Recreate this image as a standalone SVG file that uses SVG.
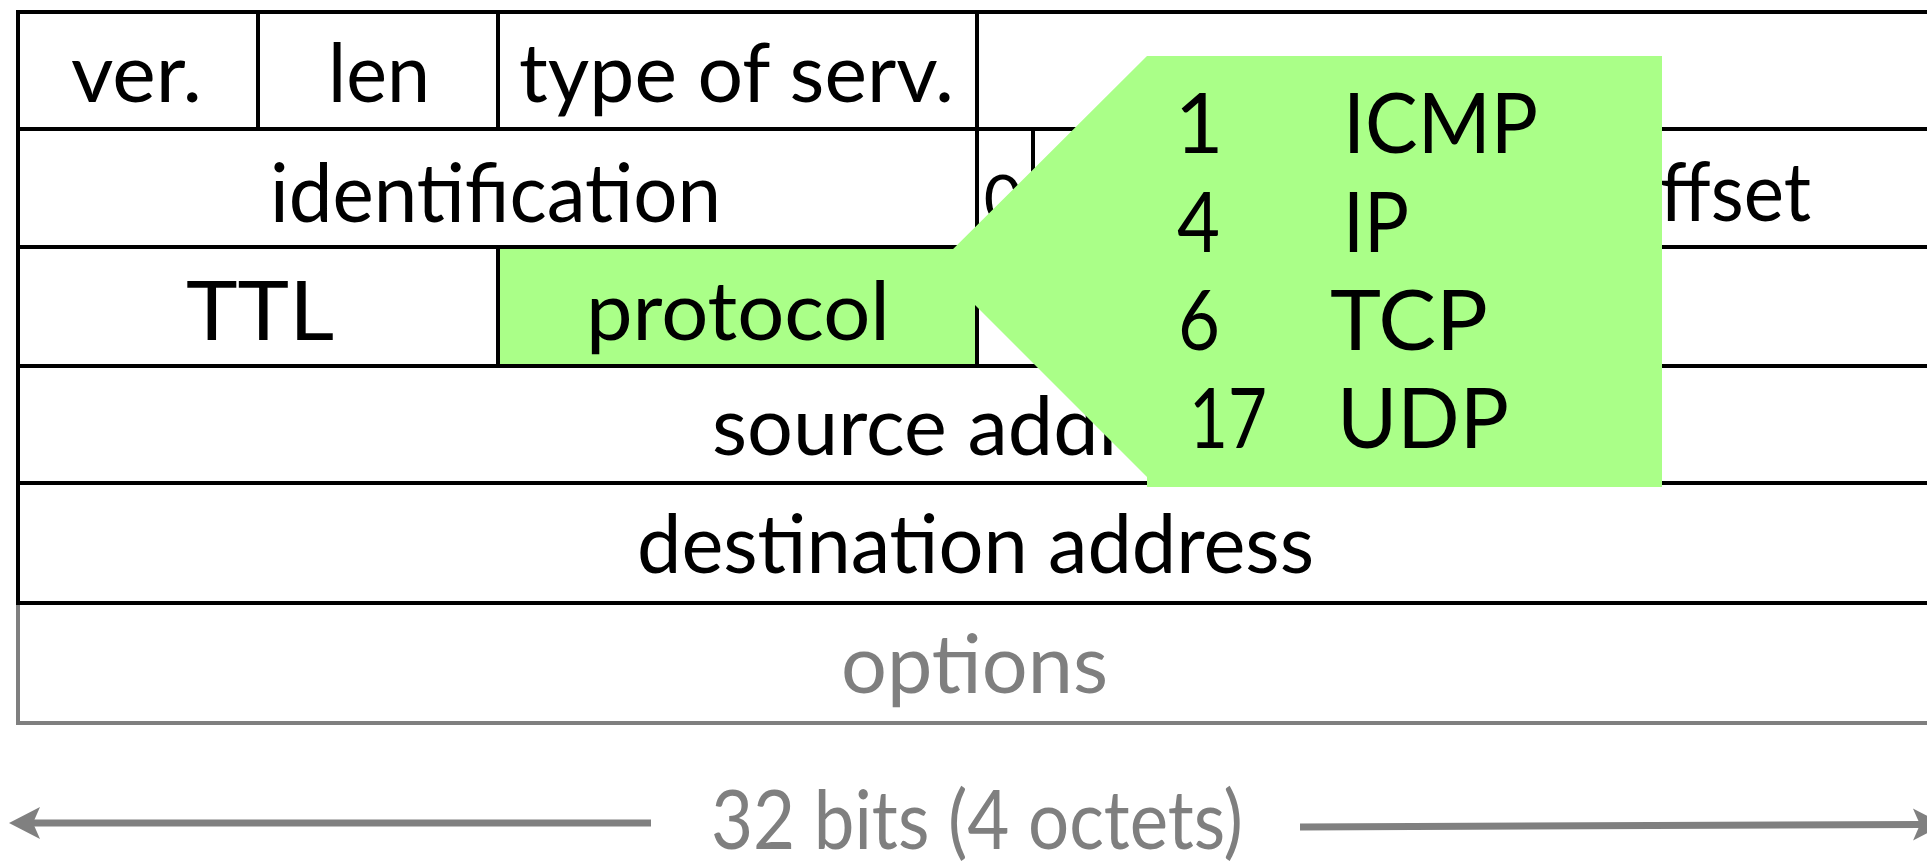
<svg xmlns="http://www.w3.org/2000/svg" width="1927" height="865" viewBox="0 0 1927 865">
<style>
.t{font-family:"Lato","Liberation Sans",sans-serif;font-size:81px;fill:#000}
.g{fill:#7F7F7F}
.c{font-family:"Lato","Liberation Sans",sans-serif;font-size:84px;fill:#000}
.ln{stroke:#000;stroke-width:4;fill:none}
.lg{stroke:#7F7F7F;stroke-width:4;fill:none}
.green{fill:#AAFF88}
.arr{stroke:#808080;stroke-width:7;fill:none}
</style>
<defs>
<marker id="ah" markerUnits="userSpaceOnUse" markerWidth="32" markerHeight="32" refX="7" refY="16" orient="auto" overflow="visible">
<path d="M0,0 L31,16 L0,32 L7,16 Z" fill="#808080"/>
</marker>
</defs>
<rect width="1927" height="865" fill="#fff"/>

<g id="row1">
<line class="ln" x1="16" y1="12" x2="1940" y2="12"/>
<line class="ln" x1="18" y1="12" x2="18" y2="129"/>
<line class="ln" x1="258" y1="12" x2="258" y2="129"/>
<line class="ln" x1="498" y1="12" x2="498" y2="129"/>
<line class="ln" x1="977" y1="12" x2="977" y2="129"/>
<text class="t" x="71" y="102" textLength="131" lengthAdjust="spacingAndGlyphs">ver.</text>
<text class="t" x="328" y="102" textLength="102" lengthAdjust="spacingAndGlyphs">len</text>
<text class="t" x="519" y="102" textLength="435" lengthAdjust="spacingAndGlyphs">type of serv.</text>
</g>

<g id="row2">
<line class="ln" x1="16" y1="129" x2="1940" y2="129"/>
<line class="ln" x1="18" y1="129" x2="18" y2="247"/>
<line class="ln" x1="977" y1="129" x2="977" y2="247"/>
<line class="ln" x1="1033" y1="129" x2="1033" y2="247"/>
<text class="t" x="270" y="222" textLength="451" lengthAdjust="spacingAndGlyphs">identification</text>
<text class="t" x="1003" y="222" text-anchor="middle" style="font-size:66px">0</text>
<text class="t" x="1660" y="221" textLength="151" lengthAdjust="spacingAndGlyphs">ffset</text>
</g>

<g id="row3">
<rect class="green" x="498" y="247" width="479" height="119"/>
<line class="ln" x1="16" y1="247" x2="1940" y2="247"/>
<line class="ln" x1="18" y1="247" x2="18" y2="366"/>
<line class="ln" x1="498" y1="247" x2="498" y2="366"/>
<line class="ln" x1="977" y1="247" x2="977" y2="366"/>
<text class="t" x="186" y="340" textLength="148" lengthAdjust="spacingAndGlyphs">TTL</text>
<text class="t" x="586" y="340" textLength="304" lengthAdjust="spacingAndGlyphs">protocol</text>
</g>

<g id="row4">
<line class="ln" x1="16" y1="366" x2="1940" y2="366"/>
<line class="ln" x1="18" y1="366" x2="18" y2="483"/>
<text class="t" x="712" y="455" textLength="416" lengthAdjust="spacingAndGlyphs">source addr</text>
</g>

<g id="row5">
<line class="ln" x1="16" y1="483" x2="1940" y2="483"/>
<line class="ln" x1="18" y1="483" x2="18" y2="603"/>
<text class="t" x="637" y="573" textLength="677" lengthAdjust="spacingAndGlyphs">destination address</text>
</g>

<g id="row6">
<line class="lg" x1="18" y1="603" x2="18" y2="723"/>
<line class="lg" x1="16" y1="723" x2="1940" y2="723"/>
<line class="ln" x1="16" y1="603" x2="1940" y2="603"/>
<text class="t g" x="841" y="693" textLength="267" lengthAdjust="spacingAndGlyphs">options</text>
</g>

<g id="callout">
<polygon class="green" points="1147,56 1662,56 1662,487 1147,487 1147,477 936,266"/>
<text class="c" x="1199" y="153" text-anchor="middle">1</text>
<text class="c" x="1343" y="153" textLength="195" lengthAdjust="spacingAndGlyphs">ICMP</text>
<text class="c" x="1177" y="252" textLength="43" lengthAdjust="spacingAndGlyphs">4</text>
<text class="c" x="1343" y="252" textLength="66" lengthAdjust="spacingAndGlyphs">IP</text>
<text class="c" x="1178" y="350" textLength="42" lengthAdjust="spacingAndGlyphs">6</text>
<text class="c" x="1330" y="350" textLength="158" lengthAdjust="spacingAndGlyphs">TCP</text>
<text class="c" x="1189" y="448" textLength="78" lengthAdjust="spacingAndGlyphs">17</text>
<text class="c" x="1337" y="448" textLength="172" lengthAdjust="spacingAndGlyphs">UDP</text>
</g>

<g id="connectors">
<line class="arr" x1="651" y1="823" x2="33" y2="823" marker-end="url(#ah)"/>
<line class="arr" x1="1300" y1="827" x2="1920" y2="824.5" marker-end="url(#ah)"/>
<text class="t g" x="711" y="849" textLength="532" lengthAdjust="spacingAndGlyphs">32 bits (4 octets)</text>
</g>
</svg>
